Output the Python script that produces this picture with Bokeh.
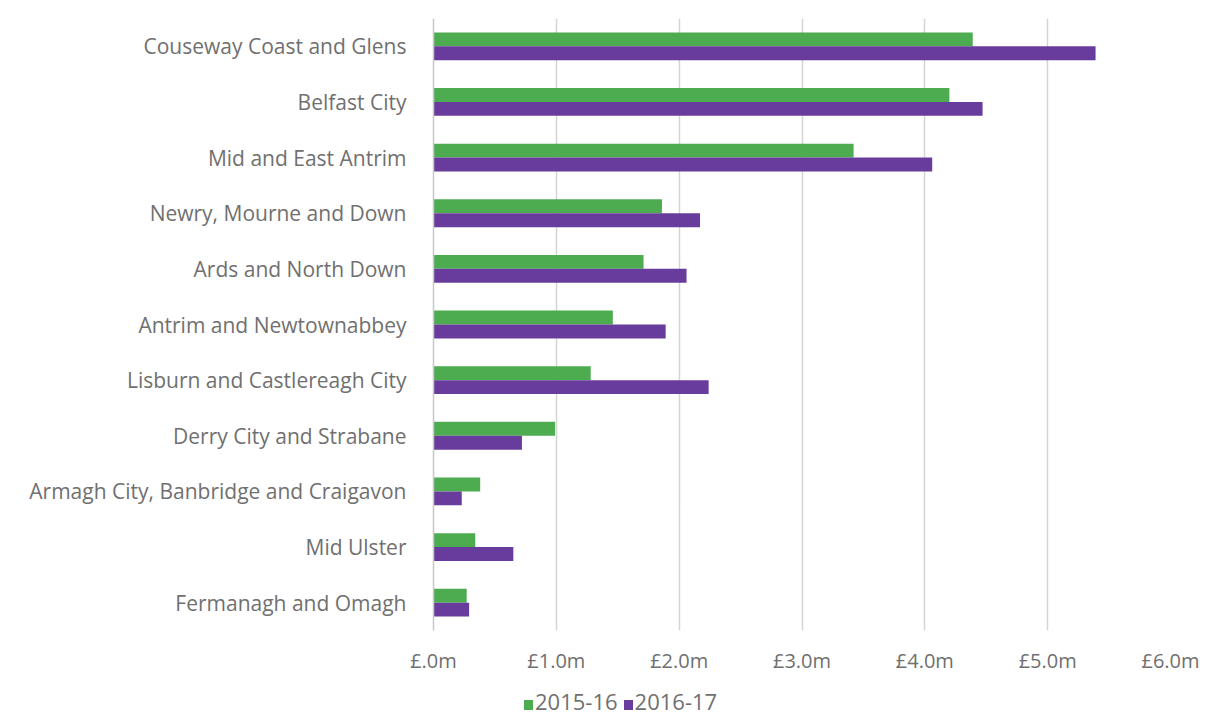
from bokeh.plotting import figure
from bokeh.models import ColumnDataSource, FactorRange, FixedTicker, Div
from bokeh.layouts import column
from bokeh.transform import dodge
from bokeh.embed import file_html
from bokeh.resources import INLINE

categories = [
    "Couseway Coast and Glens",
    "Belfast City",
    "Mid and East Antrim",
    "Newry, Mourne and Down",
    "Ards and North Down",
    "Antrim and Newtownabbey",
    "Lisburn and Castlereagh City",
    "Derry City and Strabane",
    "Armagh City, Banbridge and Craigavon",
    "Mid Ulster",
    "Fermanagh and Omagh",
]
v_2015_16 = [4.39, 4.20, 3.42, 1.86, 1.71, 1.46, 1.28, 0.99, 0.38, 0.34, 0.27]
v_2016_17 = [5.39, 4.47, 4.06, 2.17, 2.06, 1.89, 2.24, 0.72, 0.23, 0.65, 0.29]
tick_values = [0, 1, 2, 3, 4, 5, 6]
tick_labels = ["£.0m", "£1.0m", "£2.0m", "£3.0m", "£4.0m", "£5.0m", "£6.0m"]
series_names = ["2015-16", "2016-17"]

GREEN = "#4dac50"
PURPLE = "#683c9c"
TEXT = "#707070"
FONT = "Open Sans"

src = ColumnDataSource(dict(cat=categories, a=v_2015_16, b=v_2016_17))

p = figure(
    width=1211, height=678,
    y_range=FactorRange(factors=list(reversed(categories))),
    x_range=(0, 6),
    output_backend="svg", toolbar_location=None,
    min_border_left=433, min_border_right=41, min_border_top=18, min_border_bottom=48,
)
p.outline_line_color = None

p.hbar(y=dodge("cat", 0.125, range=p.y_range), right="a", left=0, height=0.25,
       source=src, fill_color=GREEN, line_color=None)
p.hbar(y=dodge("cat", -0.125, range=p.y_range), right="b", left=0, height=0.25,
       source=src, fill_color=PURPLE, line_color=None)

p.xaxis.ticker = FixedTicker(ticks=tick_values)
p.xaxis.major_label_overrides = {t: l for t, l in zip(tick_values, tick_labels)}
p.xaxis.axis_line_color = None
p.xaxis.major_tick_line_color = None
p.xaxis.minor_tick_line_color = None
p.xaxis.major_label_text_font = FONT
p.xaxis.major_label_text_font_size = "20px"
p.xaxis.major_label_text_color = TEXT
p.xaxis.major_label_standoff = 10

p.yaxis.axis_line_color = "#c8c8c8"
p.yaxis.axis_line_width = 1.5
p.yaxis.major_tick_line_color = None
p.yaxis.minor_tick_line_color = None
p.yaxis.major_label_text_font = FONT
p.yaxis.major_label_text_font_size = "21px"
p.yaxis.major_label_text_color = TEXT
p.yaxis.major_label_standoff = 21

p.xgrid.grid_line_color = "#d4d4d4"
p.xgrid.grid_line_width = 1.5
p.ygrid.grid_line_color = None

def swatch(color, left=0):
    return (f'<span style="display:inline-block;width:9px;height:10px;'
            f'background:{color};margin-left:{left}px;margin-right:2px;'
            f'vertical-align:baseline"></span>')

legend_html = (
    f'<div style="font-family:\'{FONT}\';font-size:22px;color:{TEXT};'
    f'line-height:22px;padding-top:7px;padding-left:519px;white-space:nowrap">'
    f'{swatch(GREEN)}{series_names[0]}'
    f'{swatch(PURPLE, 6)}{series_names[1]}</div>'
)
legend_div = Div(text=legend_html, width=1211, height=36)

layout = column(p, legend_div, spacing=0)

open("out.html", "w").write(file_html(layout, INLINE))
